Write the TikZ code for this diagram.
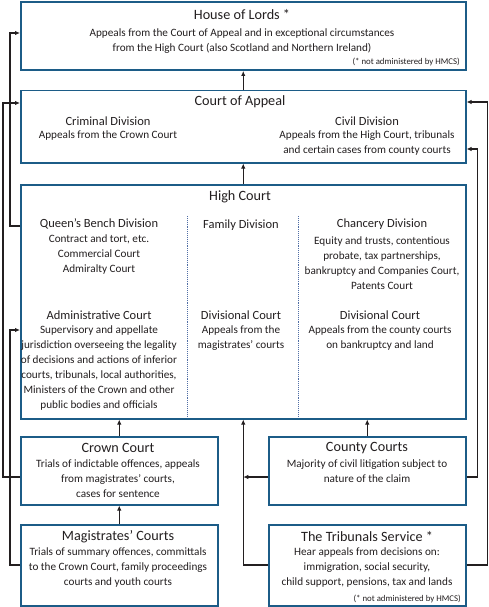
\documentclass[tikz,border=0pt]{standalone}
\usepackage{fontspec}
\setmainfont{Carlito}
\usetikzlibrary{arrows.meta,calc}
\definecolor{boxblue}{RGB}{28,92,135}
\definecolor{dotblue}{RGB}{80,110,165}
\definecolor{ink}{RGB}{35,31,32}
\begin{document}
\begin{tikzpicture}[x=1pt,y=-1pt,
  box/.style={draw=boxblue,line width=1.5pt,fill=white,inner sep=0pt,anchor=north west},
  ttl/.style={font=\fontsize{14.2}{15}\selectfont,text=ink,inner sep=0pt},
  sub/.style={font=\fontsize{12.5}{15}\selectfont,text=ink,inner sep=0pt},
  body/.style={font=\fontsize{11.2}{15}\selectfont,text=ink,align=center,inner sep=0pt},
  note/.style={font=\fontsize{8.8}{9}\selectfont,text=ink,inner sep=0pt,anchor=east},
  conn/.style={draw=ink,line width=1.3pt},
  arr/.style={conn,-{Latex[length=5pt,width=4.5pt]}},
  sep/.style={draw=dotblue,line width=0.9pt,densely dotted}]
\useasboundingbox (0,0) rectangle (489,607);
% boxes
\node[box,minimum width=445pt,minimum height=68pt] (hol) at (20,1.5) {};
\node[box,minimum width=445pt,minimum height=72pt] (coa) at (20,90) {};
\node[box,minimum width=445pt,minimum height=234pt] (hc) at (20,184) {};
\node[box,minimum width=197pt,minimum height=68pt] (crown) at (20,436) {};
\node[box,minimum width=197pt,minimum height=68pt] (county) at (268,436) {};
\node[box,minimum width=197pt,minimum height=81pt] (mag) at (20,524) {};
\node[box,minimum width=197pt,minimum height=81pt] (trib) at (268,524) {};
% House of Lords
\node[ttl] (holt) at (242,15) {House of Lords *};
\node[body] (holb) at (242,41.5) {Appeals from the Court of Appeal and in exceptional circumstances\\from the High Court (also Scotland and Northern Ireland)};
\node[note] (holn) at (460,62) {(* not administered by HMCS)};
% Court of Appeal
\node[ttl] (coat) at (240,102) {Court of Appeal};
\node[sub] (crimt) at (108,121) {Criminal Division};
\node[body] (crimb) at (108,136) {Appeals from the Crown Court};
\node[sub] (civt) at (367,121) {Civil Division};
\node[body] (civb) at (367,143.5) {Appeals from the High Court, tribunals\\and certain cases from county courts};
% High Court
\node[ttl] (hct) at (240,197) {High Court};
\draw[sep] (187,216) -- (187,417);
\draw[sep] (298,216) -- (298,417);
\node[sub] (qbt) at (99,224) {Queen's Bench Division};
\node[body] (qbb) at (99,255) {Contract and tort, etc.\\Commercial Court\\Admiralty Court};
\node[sub] (famt) at (241,225) {Family Division};
\node[sub] (cht) at (382,224) {Chancery Division};
\node[body] (chb) at (382,263.5) {Equity and trusts, contentious\\probate, tax partnerships,\\bankruptcy and Companies Court,\\Patents Court};
\node[sub] (admt) at (99,315) {Administrative Court};
\node[body] (admb) at (99,368.5) {Supervisory and appellate\\jurisdiction overseeing the legality\\of decisions and actions of inferior\\courts, tribunals, local authorities,\\Ministers of the Crown and other\\public bodies and officials};
\node[sub] (divt1) at (241,315) {Divisional Court};
\node[body] (divb1) at (241,338.5) {Appeals from the\\magistrates' courts};
\node[sub] (divt2) at (380,315) {Divisional Court};
\node[body] (divb2) at (380,338.5) {Appeals from the county courts\\on bankruptcy and land};
% Crown Court
\node[ttl] (crt) at (118,448) {Crown Court};
\node[body] (crb) at (118,479) {Trials of indictable offences, appeals\\from magistrates' courts,\\cases for sentence};
% County Courts
\node[ttl] (cot) at (367,448) {County Courts};
\node[body] (cob) at (367,471.5) {Majority of civil litigation subject to\\nature of the claim};
% Magistrates
\node[ttl] (mat) at (118,537) {Magistrates' Courts};
\node[body] (mab) at (118,568) {Trials of summary offences, committals\\to the Crown Court, family proceedings\\courts and youth courts};
% Tribunals
\node[ttl] (trt) at (367,537) {The Tribunals Service *};
\node[body] (trb) at (367,568) {Hear appeals from decisions on:\\immigration, social security,\\child support, pensions, tax and lands};
\node[note] (trn) at (461,599) {(* not administered by HMCS)};
% connectors
\draw[arr] (coa.north) -- (hol.south);
\draw[arr] (hc.north) -- (coa.south);
\draw[arr] ($(hc.north west)+(0,42)$) -- ++(-10,0) |- ($(hol.north west)+(0,31.5)$);
\draw[arr] ($(crown.north west)+(0,41)$) -- ++(-17,0) |- ($(coa.north west)+(0,13)$);
\draw[arr] ($(mag.north west)+(0,41)$) -- ++(-10,0) |- ($(hc.north west)+(0,146)$);
\draw[arr] (mag.north) -- (crown.south);
\draw[arr] (crown.north) -- (crown.north |- hc.south);
\draw[arr] (county.north) -- (county.north |- hc.south);
\draw[arr] ($(trib.north west)+(0,41)$) -| (hc.south);
\coordinate (cL) at ($(county.north west)+(0,41)$);
\draw[arr] (cL) -- (cL -| hc.south);
\draw[arr] ($(county.north east)+(0,41)$) -- ++(11,0) |- ($(coa.north east)+(0,59)$);
\draw[arr] ($(trib.north east)+(0,41)$) -- ++(21,0) |- ($(coa.north east)+(0,12)$);
\end{tikzpicture}
\end{document}
